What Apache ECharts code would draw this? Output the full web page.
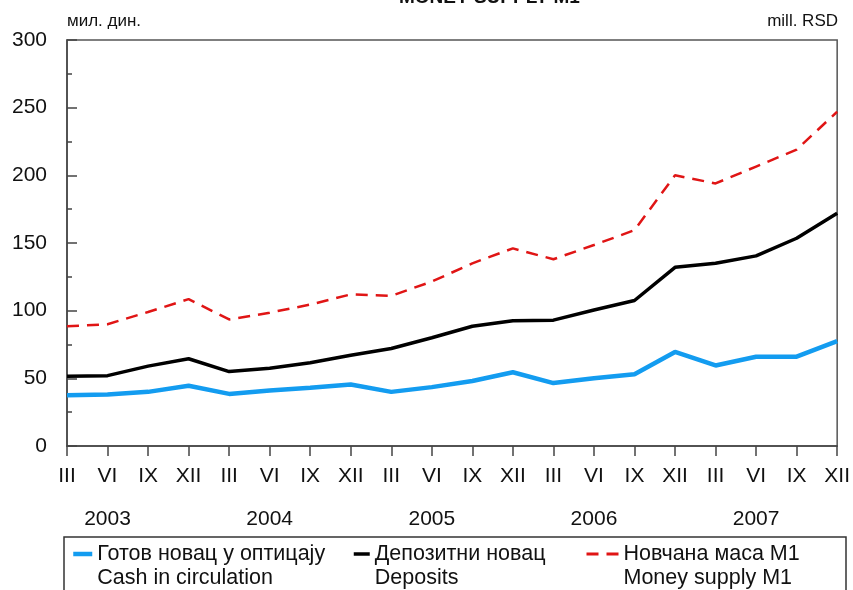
<!DOCTYPE html>
<html>
<head>
<meta charset="utf-8">
<script src="https://cdn.jsdelivr.net/npm/echarts@6/dist/echarts.min.js"></script>
<style>html,body{margin:0;padding:0;background:#fff;}#c{width:853px;height:590px;}</style>
</head>
<body>
<div id="c"></div>
<script>
const quarters = ['III','VI','IX','XII','III','VI','IX','XII','III','VI','IX','XII','III','VI','IX','XII','III','VI','IX','XII'];
const years = ['2003','2004','2005','2006','2007'];
const cash = [37.5, 38, 40, 44.5, 38.5, 41, 43, 45.5, 40, 43.5, 48, 54.5, 46.5, 50, 53, 69.5, 59.5, 66, 66, 77.5];
const deposits = [51.5, 52, 59, 64.5, 55, 57.5, 61.5, 67, 72, 80, 88.5, 92.5, 93, 100.5, 107.5, 132, 135, 140.5, 153.5, 172];
const m1 = [88.5, 90, 99, 108.5, 93.5, 98.5, 104.5, 112, 111, 121.5, 135, 146, 138, 148.5, 159.5, 200, 194, 206.5, 219, 247];
const names = ['Готов новац у оптицају', 'Депозитни новац', 'Новчана маса М1'];
const namesEn = ['Cash in circulation', 'Deposits', 'Money supply M1'];
const yTicks = {min: 0, max: 300, interval: 50};

const FONT = 'Liberation Sans, Arial, sans-serif';
const chart = echarts.init(document.getElementById('c'));

function legendFor(i, left, w, lw) {
  return {
    show: true, data: [names[i]], left: left, top: 518, padding: 0,
    itemWidth: w, itemHeight: 10, itemGap: 0,
    itemStyle: {opacity: 0},
    lineStyle: {width: lw},
    formatter: function (n) { return ' \n' + n + '\n' + namesEn[i]; },
    textStyle: {fontFamily: FONT, fontSize: 21.5, color: '#111', lineHeight: 24}
  };
}

chart.setOption({
  animation: false,
  backgroundColor: '#fff',
  grid: {left: 67, right: 15, top: 40, bottom: 144, show: true, borderColor: '#555', borderWidth: 1.5, backgroundColor: 'transparent'},
  graphic: [
    {type: 'text', left: 399, top: -12, style: {text: 'MONEY SUPPLY M1', font: 'bold 19px ' + FONT, fill: '#111'}},
    {type: 'text', left: 67, top: 13, style: {text: 'мил. дин.', font: '17px ' + FONT, fill: '#111'}},
    {type: 'text', right: 15, top: 13, style: {text: 'mill. RSD', font: '17px ' + FONT, fill: '#111'}},
    {type: 'rect', shape: {x: 64, y: 537, width: 782, height: 70}, style: {fill: 'none', stroke: '#333', lineWidth: 1.5}}
  ],
  legend: [legendFor(0, 71, 19, 4.5), legendFor(1, 352, 16, 3.5), legendFor(2, 585, 32, 3)],
  xAxis: [
    {
      type: 'category', data: quarters, boundaryGap: false,
      axisLine: {lineStyle: {color: '#444', width: 1.5}},
      axisTick: {show: true, inside: false, length: 10, lineStyle: {color: '#444', width: 1.5}, interval: 0},
      axisLabel: {interval: 0, margin: 20, fontFamily: FONT, fontSize: 21, color: '#111'},
      splitLine: {show: false}
    },
    {
      type: 'category', data: quarters, boundaryGap: false, position: 'bottom',
      axisLine: {show: false}, axisTick: {show: false},
      axisLabel: {interval: 0, margin: 63, fontFamily: FONT, fontSize: 21, color: '#111',
        formatter: function (v, idx) { return idx % 4 === 1 ? years[Math.floor(idx / 4)] : ''; }},
      splitLine: {show: false}
    }
  ],
  yAxis: {
    type: 'value', min: yTicks.min, max: yTicks.max, interval: yTicks.interval,
    axisLine: {show: true, lineStyle: {color: '#444', width: 1.5}},
    axisTick: {show: true, inside: true, length: 10, lineStyle: {color: '#444', width: 1.5}},
    minorTick: {show: true, splitNumber: 2, length: 5, lineStyle: {color: '#444', width: 1.5}},
    axisLabel: {margin: 20, fontFamily: FONT, fontSize: 21, color: '#111'},
    splitLine: {show: false}
  },
  series: [
    {name: names[0], type: 'line', data: cash, symbol: 'none', lineStyle: {color: '#139cf0', width: 4.5}, itemStyle: {color: '#139cf0'}},
    {name: names[1], type: 'line', data: deposits, symbol: 'none', lineStyle: {color: '#000', width: 3.5}, itemStyle: {color: '#000'}},
    {name: names[2], type: 'line', data: m1, symbol: 'none', lineStyle: {color: '#e01515', width: 2.5, type: [12, 8]}, itemStyle: {color: '#e01515'}}
  ]
});
</script>
</body>
</html>
